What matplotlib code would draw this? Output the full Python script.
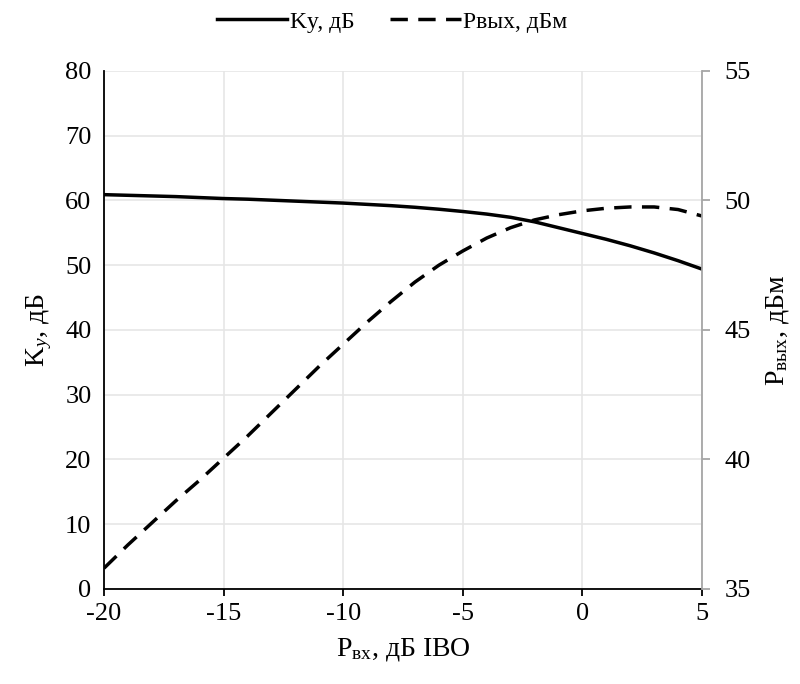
import matplotlib
matplotlib.use('Agg')
import matplotlib.pyplot as plt

plt.rcParams['font.family'] = ['Liberation Serif', 'DejaVu Serif']
plt.rcParams['mathtext.fontset'] = 'custom'
plt.rcParams['mathtext.rm'] = 'Liberation Serif'
plt.rcParams['mathtext.it'] = 'Liberation Serif:italic'
plt.rcParams['axes.unicode_minus'] = False

# input power, dB IBO
p_in = [-20, -19, -18, -17, -16, -15, -14, -13, -12, -11, -10, -9, -8,
        -7, -6, -5, -4, -3, -2, -1, 0, 1, 2, 3, 4, 5]
# gain Ky, dB (left axis)
gain = [60.9, 60.8, 60.7, 60.6, 60.45, 60.3, 60.2, 60.05, 59.9, 59.75, 59.6,
        59.4, 59.2, 58.95, 58.65, 58.3, 57.9, 57.4, 56.7, 55.8, 54.9, 54.0,
        53.0, 51.9, 50.7, 49.4]
# output power, dBm (right axis)
p_out = [35.8, 36.7, 37.55, 38.4, 39.2, 40.05, 40.9, 41.8, 42.7, 43.6, 44.45,
         45.3, 46.1, 46.85, 47.5, 48.05, 48.55, 48.95, 49.25, 49.45, 49.6,
         49.7, 49.75, 49.75, 49.65, 49.4]

fig = plt.figure(figsize=(8, 6.84), dpi=100)
ax = fig.add_axes([0.13, 0.139, 0.7475, 0.7572])
ax2 = ax.twinx()

l1, = ax.plot(p_in, gain, color='black', lw=2.5, label='Ky, дБ')
l2, = ax2.plot(p_in, p_out, color='black', lw=2.5, ls=(0, (5, 3)), label='Pвых, дБм')

ax.set_xlim(-20, 5)
ax.set_ylim(0, 80)
ax.set_xticks(range(-20, 6, 5))
ax.set_yticks(range(0, 81, 10))
ax2.set_ylim(35, 55)
ax2.set_yticks(range(35, 56, 5))

ax.grid(True, color='#e6e6e6', lw=1.2)
ax.set_axisbelow(True)

ax.spines['top'].set_visible(False)
ax2.spines['top'].set_visible(False)
ax2.spines['left'].set_visible(False)
ax2.spines['bottom'].set_visible(False)
ax.spines['right'].set_visible(False)
ax2.spines['right'].set_color('#a6a6a6')
ax2.spines['right'].set_linewidth(1.3)
ax.spines['left'].set_linewidth(1.3)
ax.spines['bottom'].set_linewidth(1.3)

ax.tick_params(axis='x', direction='out', length=5, width=1.3, labelsize=19, pad=5)
ax.tick_params(axis='y', length=0, labelsize=19, pad=9)
ax2.tick_params(axis='y', direction='out', length=6, width=1.3, color='#a6a6a6',
                labelsize=19, pad=10)

ax.set_xlabel('P$_\\mathrm{вх}$, дБ IBO', fontsize=20, labelpad=8)
ax.set_ylabel('K$_\\mathit{y}$, дБ', fontsize=20, labelpad=8)
ax2.set_ylabel('P$_\\mathrm{вых}$, дБм', fontsize=20, labelpad=10)

fig.legend(handles=[l1, l2], loc='upper center', bbox_to_anchor=(0.49, 1.015),
           ncol=2, frameon=False, fontsize=17, handlelength=3.0,
           handletextpad=0.1, columnspacing=1.5)

fig.savefig('out.png', dpi=100)
